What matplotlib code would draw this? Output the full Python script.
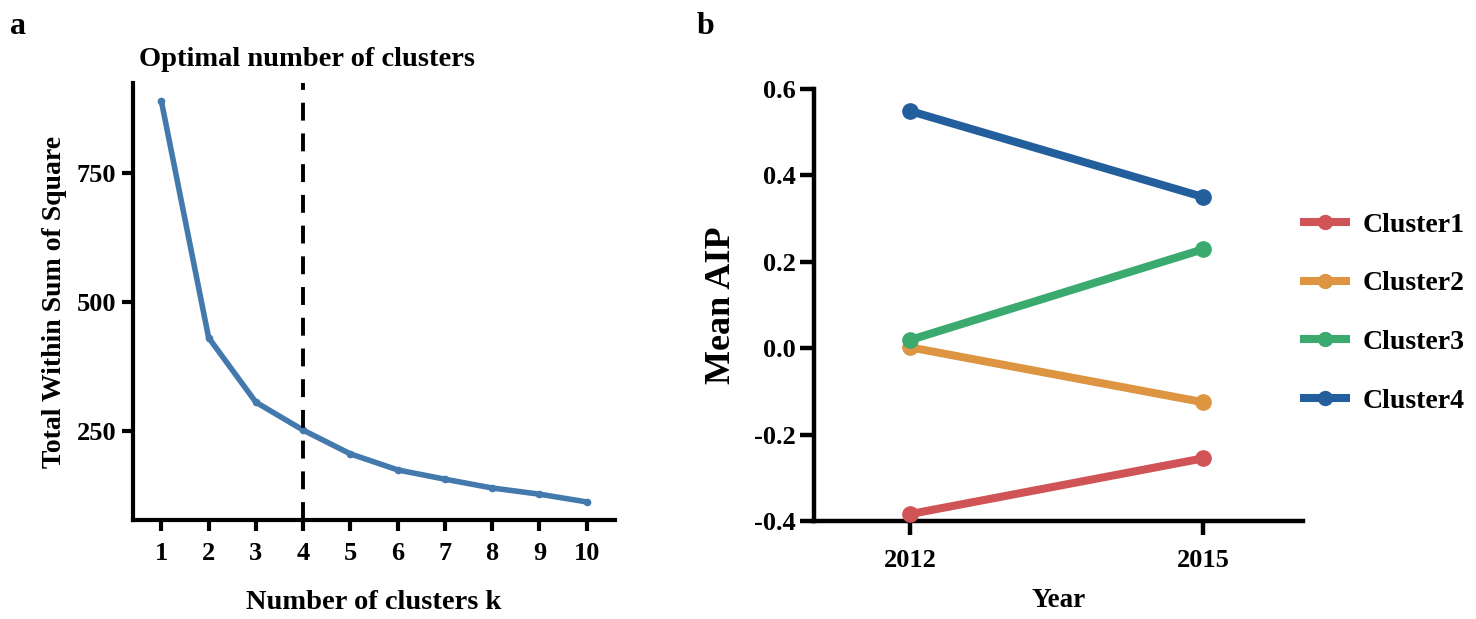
import matplotlib
matplotlib.use("Agg")
import matplotlib.pyplot as plt
from matplotlib.lines import Line2D

plt.rcParams['font.family'] = ['Liberation Serif', 'DejaVu Serif']
plt.rcParams['font.weight'] = 'bold'

# ---- data panel a ----
k_values = [1, 2, 3, 4, 5, 6, 7, 8, 9, 10]
wss = [889, 431, 306, 252, 206, 175, 157, 140, 128, 113]
optimal_k = 4

# ---- data panel b ----
years = ['2012', '2015']
cluster_names = ['Cluster1', 'Cluster2', 'Cluster3', 'Cluster4']
cluster1 = [-0.384, -0.255]
cluster2 = [0.002, -0.125]
cluster3 = [0.019, 0.229]
cluster4 = [0.549, 0.350]
cluster_colors = ['#d05456', '#dd9542', '#3aaa6e', '#225f9c']

fig = plt.figure(figsize=(14.76, 6.19), dpi=100)

# ---------------- panel a ----------------
axa = fig.add_axes([133/1476, (619-520)/619, (615-133)/1476, (520-83)/619])
axa.plot(k_values, wss, color='#4379ad', lw=4.0, marker='o', ms=4.5, solid_capstyle='round')
axa.axvline(optimal_k, color='black', lw=2.8, ls=(0, (4.6, 3.3)))
axa.set_xlim(0.4, 10.6)
axa.set_ylim(78, 924)
axa.set_xticks(k_values)
axa.set_yticks([250, 500, 750])
for s in ['top', 'right']:
    axa.spines[s].set_visible(False)
for s in ['left', 'bottom']:
    axa.spines[s].set_linewidth(3.0)
axa.tick_params(axis='both', width=3.0, length=8, labelsize=19, pad=4)
axa.tick_params(axis='x', pad=8)
axa.set_xlabel('Number of clusters k', fontsize=20.5, fontweight='bold', labelpad=18)
axa.set_ylabel('Total Within Sum of Square', fontsize=20, fontweight='bold', labelpad=7)
fig.text(307/1476, 1 - 60/619, 'Optimal number of clusters', ha='center', va='center',
         fontsize=20.5, fontweight='bold')
fig.text(10/1476, 1 - 27/619, 'a', ha='left', va='center', fontsize=23, fontweight='bold')

# ---------------- panel b ----------------
axb = fig.add_axes([814/1476, (619-521)/619, (1303-814)/1476, (521-89)/619])
xpos = list(range(len(years)))
series = [cluster1, cluster2, cluster3, cluster4]
for vals, name, col in zip(series, cluster_names, cluster_colors):
    axb.plot(xpos, vals, color=col, lw=5.8, marker='o', ms=11, label=name,
             solid_capstyle='round', clip_on=False, zorder=3)
axb.set_xlim(-0.328, 1.341)
axb.set_ylim(-0.4, 0.6)
axb.set_xticks(xpos)
axb.set_xticklabels(years)
axb.set_yticks([-0.4, -0.2, 0.0, 0.2, 0.4, 0.6])
axb.set_yticklabels(['-0.4', '-0.2', '0.0', '0.2', '0.4', '0.6'])
for s in ['top', 'right']:
    axb.spines[s].set_visible(False)
for s in ['left', 'bottom']:
    axb.spines[s].set_linewidth(3.2)
axb.tick_params(axis='both', width=3.2, length=10, labelsize=19, pad=3)
axb.tick_params(axis='x', pad=10)
axb.set_xlabel('Year', fontsize=19.5, fontweight='bold', labelpad=12)
axb.set_ylabel('Mean AIP', fontsize=26, fontweight='bold', labelpad=12)
fig.text(697/1476, 1 - 27/619, 'b', ha='left', va='center', fontsize=23, fontweight='bold')

leg_handles = [Line2D([0], [0], color=c, lw=5.8, marker='o', ms=10) for c in cluster_colors]
fig.legend(leg_handles, cluster_names, loc='center left',
           bbox_to_anchor=(1279/1476, 1 - 313/619), frameon=False, fontsize=20,
           handlelength=1.5, labelspacing=1.2, handletextpad=0.6)

fig.savefig('out.png', dpi=100)
